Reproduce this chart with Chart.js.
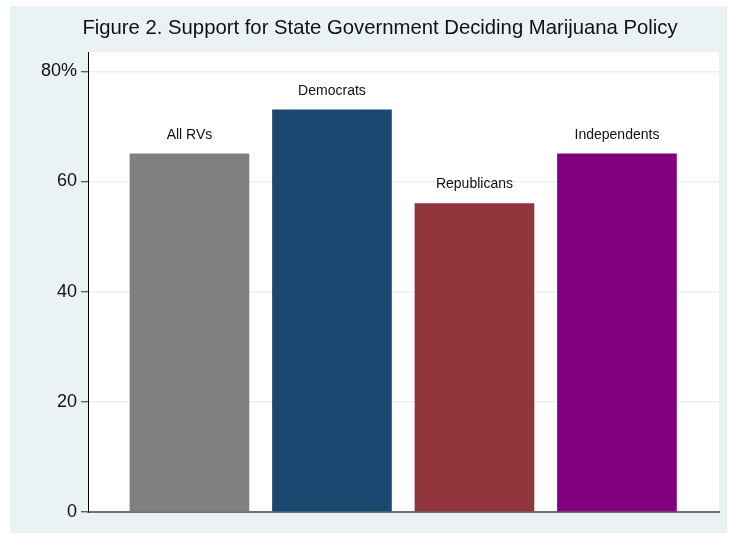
<!DOCTYPE html>
<html>
<head>
<meta charset="utf-8">
<script src="https://cdn.jsdelivr.net/npm/chart.js@4.4.0/dist/chart.umd.min.js"></script>
<style>
    body { margin: 0; background: #fff; }
    #wrap { position: absolute; left: 10px; top: 6px; width: 717px; height: 527px; background: #eaf2f3; }
</style>
</head>
<body>
<div id="wrap"><canvas id="chart" width="717" height="527"></canvas></div>
<script>
const title = 'Figure 2. Support for State Government Deciding Marijuana Policy';
const categories = ['All RVs', 'Democrats', 'Republicans', 'Independents'];
const support = [65, 73, 56, 65];
const barColors = ['#808080', '#1a476f', '#90353b', '#800080'];
const yTicks = [0, 20, 40, 60, 80];

const FONT = '"Liberation Sans", Arial, sans-serif';

// white plot region + the title, stata style
const plotBg = {
    id: 'plotBg',
    beforeDraw(chart) {
        const a = chart.chartArea;
        const ctx = chart.ctx;
        ctx.save();
        ctx.fillStyle = '#ffffff';
        ctx.fillRect(a.left, a.top, a.right - a.left, a.bottom - a.top);
        ctx.font = '20.3px ' + FONT;
        ctx.fillStyle = '#111';
        ctx.textAlign = 'center';
        ctx.textBaseline = 'middle';
        ctx.fillText(title, 370, 22);
        ctx.restore();
    }
};

// category names above each bar
const barLabels = {
    id: 'barLabels',
    afterDatasetsDraw(chart) {
        const ctx = chart.ctx;
        ctx.save();
        ctx.font = '14px ' + FONT;
        ctx.fillStyle = '#111';
        ctx.textAlign = 'center';
        ctx.textBaseline = 'middle';
        chart.getDatasetMeta(0).data.forEach((bar, i) => {
            ctx.fillText(categories[i], bar.x, bar.y - 19);
        });
        ctx.restore();
    }
};

new Chart(document.getElementById('chart'), {
    type: 'bar',
    data: {
        datasets: [{
            data: support.map((v, i) => ({ x: i + 1, y: v })),
            backgroundColor: barColors,
            borderWidth: 0,
            barThickness: 119
        }]
    },
    options: {
        responsive: false,
        animation: false,
        layout: { padding: { left: 0, right: 8, bottom: 21, top: 46 } },
        plugins: {
            legend: { display: false },
            tooltip: { enabled: false },
            title: { display: false }
        },
        scales: {
            x: {
                type: 'linear',
                offset: false,
                min: 0.288,
                max: 4.716,
                ticks: { display: false },
                grid: { display: false, drawTicks: false, offset: false },
                border: { color: '#707070', width: 2 },
                afterFit(scale) { scale.height = 0; }
            },
            y: {
                min: 0,
                max: 83.5,
                afterBuildTicks(scale) {
                    scale.ticks = yTicks.map(v => ({ value: v }));
                },
                ticks: {
                    color: '#111',
                    padding: 4,
                    font: { family: FONT, size: 18 },
                    callback: v => v === 80 ? '80%' : String(v)
                },
                grid: {
                    color: '#eaf2f3',
                    lineWidth: 1.5,
                    tickColor: '#333',
                    tickLength: 7,
                    tickWidth: 1
                },
                border: { color: '#000', width: 1 },
                afterFit(scale) { scale.width = 78; }
            }
        }
    },
    plugins: [plotBg, barLabels]
});
</script>
</body>
</html>
